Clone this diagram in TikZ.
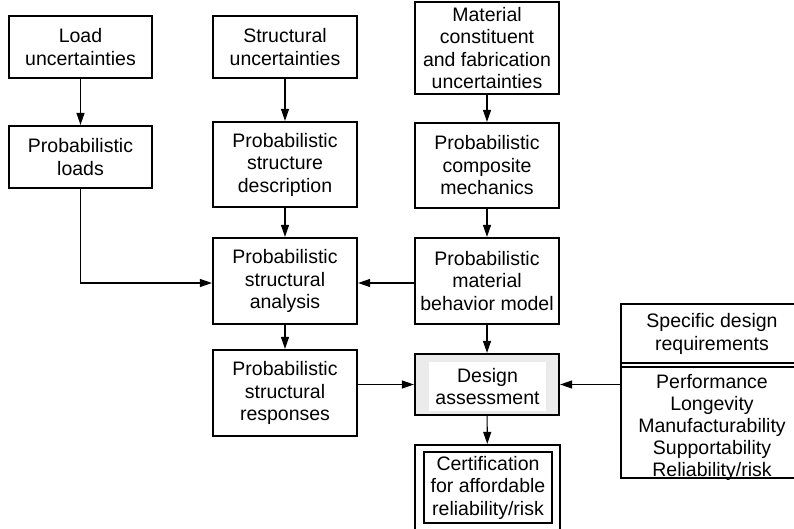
\documentclass[tikz,border=0pt]{standalone}
\usepackage{fontspec}
\setmainfont{Liberation Sans}
\usetikzlibrary{arrows.meta,calc}
\begin{document}
\begin{tikzpicture}[x=1pt,y=-1pt,
  box/.style={draw,line width=2.2pt,align=center,inner sep=0pt,
    font=\fontsize{19.5}{22.5}\selectfont},
  arr/.style={line width=1.1pt,-{Triangle[length=12pt,width=8pt]}},
  ln/.style={line width=1.1pt}]
\useasboundingbox (0,0) rectangle (794,529);
\clip (0,0) rectangle (794,529);
% top row
\node[box,minimum width=143pt,minimum height=62pt] (load) at (80.5,47) {Load\\uncertainties};
\node[box,minimum width=144pt,minimum height=62pt] (sunc) at (285,47) {Structural\\uncertainties};
\node[box,minimum width=144pt,minimum height=92pt] (munc) at (487,48) {Material\\constituent\\and fabrication\\uncertainties};
% second row
\node[box,minimum width=143pt,minimum height=62pt] (ploads) at (80.5,157) {Probabilistic\\loads};
\node[box,minimum width=144pt,minimum height=85pt] (sdesc) at (285,164.5) {Probabilistic\\structure\\description};
\node[box,minimum width=144pt,minimum height=85pt] (cmech) at (487,165.5) {Probabilistic\\composite\\mechanics};
% third row
\node[box,minimum width=144pt,minimum height=86pt] (anal) at (285,281) {Probabilistic\\structural\\analysis};
\node[box,minimum width=144pt,minimum height=86pt] (mbeh) at (487,281) {Probabilistic\\material\\behavior model};
% fourth row
\node[box,minimum width=144pt,minimum height=86pt] (resp) at (285,393) {Probabilistic\\structural\\responses};
\node[box,fill=black!8,minimum width=144pt,minimum height=61pt] (design) at (487,384.5) {};
\node[fill=white,align=center,inner sep=0pt,minimum width=117pt,minimum height=49pt,
  font=\fontsize{19.5}{22.5}\selectfont] (designin) at (487.5,386.5) {Design\\assessment};
% certification
\node[box,minimum width=145pt,minimum height=100pt] (cert) at (487.5,495) {};
\node[draw,line width=1.1pt,align=center,inner sep=0pt,minimum width=128pt,minimum height=71pt,
  font=\fontsize{19.5}{22.5}\selectfont] (certin) at (488,487.5) {Certification\\for affordable\\reliability/risk};
% requirements
\node[box,minimum width=196pt,minimum height=174pt] (req) at (719,391) {};
\node[align=center,inner sep=0pt,font=\fontsize{19.5}{22.5}\selectfont] (reqt) at (712,334) {Specific design\\requirements};
\node[align=center,inner sep=0pt,font=\fontsize{19.5}{22}\selectfont] (reql) at (712,427) {Performance\\Longevity\\Manufacturability\\Supportability\\Reliability/risk};
\draw[line width=1.2pt] (req.west |- 0,363) -- (req.east |- 0,363);
\draw[line width=1.2pt] (req.west |- 0,367) -- (req.east |- 0,367);
% connectors
\draw[arr] (load) -- (ploads);
\draw[arr] (sunc) -- (sdesc);
\draw[arr] (munc) -- (cmech);
\draw[arr] (sdesc) -- (anal);
\draw[arr] (cmech) -- (mbeh);
\draw[arr] (ploads.south) |- ($(anal.west)+(0,2)$);
\draw[arr] ($(mbeh.west)+(0,2)$) -- ($(anal.east)+(0,2)$);
\draw[arr] (anal) -- (resp);
\draw[arr] (mbeh) -- (design);
\draw[arr] (resp.east |- design.west) -- (design.west);
\draw[arr] (req.west |- design.east) -- (design.east);
\draw[arr] (design) -- (cert);
\end{tikzpicture}
\end{document}
